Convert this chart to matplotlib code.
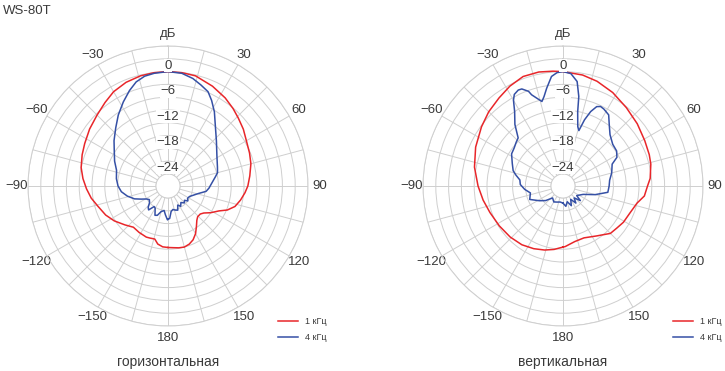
import numpy as np
import matplotlib
matplotlib.use("Agg")
import matplotlib.pyplot as plt

plt.rcParams['font.family'] = ['Liberation Sans', 'DejaVu Sans']

# ---------------- data (angle in degrees, level in dB) ----------------
h1k_ang = [-180, -175, -170, -166, -161, -157, -148, -140, -132, -123, -115, -106, -99, -92, -85,
           -78, -70, -63, -54, -45, -37, -30, -22, -14, -7, 0, 7, 14, 24, 33, 40, 46, 53, 60, 68,
           75, 83, 90, 95, 101, 107, 112, 116, 122, 127, 131, 136, 140, 145, 150, 155, 160, 165,
           170, 175, 180]
h1k_db = [-12.4, -12.5, -13.0, -14.0, -13.9, -13.8, -14.0, -14.2, -13.2, -11.8, -10.7, -9.7, -8.6,
          -7.7, -6.8, -6.0, -5.4, -4.9, -4.1, -3.3, -2.3, -1.3, -0.6, -0.2, -0.05, 0.0, -0.05, -0.2,
          -1.2, -2.2, -3.1, -3.9, -4.7, -5.6, -6.2, -6.7, -7.5, -8.1, -8.7, -9.5, -10.4, -11.8,
          -13.5, -15.0, -16.3, -16.8, -16.8, -16.3, -15.2, -13.9, -12.9, -12.3, -12.0, -12.1,
          -12.3, -12.4]

h4k_ang = [-180, -179, -175, -171, -165, -160, -156, -150, -146, -141, -137, -132, -126, -121,
           -116, -111, -104, -97, -90, -82, -73, -65, -57, -50, -42, -35, -28, -22, -17, -12, -7,
           0, 7, 13, 18, 23, 27, 32, 38, 47, 58, 69, 75, 79, 86, 93, 98, 104, 110, 116, 122, 127,
           131, 136, 142, 148, 153, 158, 163, 168, 173, 177, 180]
h4k_db = [-19.0, -18.9, -20.0, -21.0, -20.6, -19.5, -19.3, -20.8, -21.0, -19.6, -20.0, -21.0,
          -21.4, -20.9, -19.8, -18.4, -17.0, -15.8, -15.1, -14.6, -14.2, -13.0, -11.8, -10.3, -8.5,
          -6.5, -4.5, -2.7, -1.3, -0.5, -0.2, 0.0, -0.2, -0.95, -1.9, -2.8, -4.3, -6.3, -8.8,
          -11.3, -13.3, -14.4, -14.8, -15.5, -16.5, -17.2, -17.8, -19.5, -20.5, -21.2, -21.4,
          -21.0, -21.7, -21.3, -21.9, -21.2, -21.8, -20.7, -20.9, -21.2, -20.8, -19.2, -19.0]

v1k_ang = [-180, -172, -164, -155, -145, -134, -122, -110, -100, -90, -78, -66, -54, -45, -36,
           -28, -20, -12, -5, 0, 10, 18, 28, 39, 50, 61, 70, 76, 85, 90, 97, 103, 112, 121, 128,
           135, 146, 158, 168, 178, 180]
v1k_db = [-12.5, -11.8, -11.2, -10.6, -10.0, -9.6, -9.2, -8.6, -7.8, -6.9, -5.6, -4.4, -3.2, -2.2,
          -1.3, -0.3, 0.5, 0.5, 0.2, 0.0, -0.4, -1.0, -2.0, -3.2, -4.1, -4.9, -5.3, -5.6, -6.3,
          -7.0, -7.6, -9.0, -9.9, -10.3, -10.8, -11.1, -12.7, -13.7, -13.5, -12.6, -12.5]

v4k_ang = [-180, -170, -160, -150, -139, -130, -122, -112, -102, -95, -88, -82, -77, -73, -66,
           -58, -52, -47, -43, -38, -33, -30, -28, -25, -23, -20, -19, -16, -14, -12, -9.5, -6,
           -3, 0, 4, 7.7, 10, 11.2, 14, 16, 18, 20.4, 23, 25.3, 28, 32.7, 37, 42.5, 50, 56.8, 62,
           66, 75, 83, 90, 98, 105, 112.6, 125, 130, 137, 143, 150, 157, 165, 172, 180]
v4k_db = [-22.8, -23.0, -22.8, -22.5, -23.1, -21.5, -20.3, -18.4, -19.0, -17.8, -16.8, -16.6,
          -15.5, -14.6, -13.8, -12.6, -12.3, -11.8, -11.4, -8.5, -6.0, -3.6, -2.5, -2.0, -2.1,
          -3.2, -4.2, -5.6, -6.4, -5.4, -3.6, -1.0, -0.2, 0.0, -0.4, -2.1, -5.5, -9.1, -12.5,
          -13.3, -10.5, -8.2, -6.6, -6.2, -6.4, -7.0, -8.8, -10.5, -11.6, -11.8, -12.5, -14.2,
          -15.0, -15.8, -16.0, -16.2, -19.0, -21.7, -22.9, -21.5, -23.0, -21.8, -23.2, -21.8,
          -23.0, -22.0, -22.8]

angle_ticks = [0, 30, 60, 90, 120, 150, 180, -150, -120, -90, -60, -30]
angle_labels = ['дБ', '30', '60', '90', '120', '150', '180', '\u2212150', '\u2212120', '\u221290',
                '\u221260', '\u221230']
db_ticks = [0, -6, -12, -18, -24]
db_labels = ['0', '\u22126', '\u221212', '\u221218', '\u221224']
series_names = ['1 кГц', '4 кГц']
titles = ['горизонтальная', 'вертикальная']

RED = '#e8262a'
BLUE = '#3550a5'
GRID = '#cfcfcf'
TXT = '#3a3a3a'

fig = plt.figure(figsize=(7.25, 3.71), dpi=100)

W, H = 725.0, 371.0
R = 140.0
centers = [(168.0, 186.0), (563.0, 186.0)]
datasets = [((h1k_ang, h1k_db), (h4k_ang, h4k_db)), ((v1k_ang, v1k_db), (v4k_ang, v4k_db))]

for i, (cx, cy) in enumerate(centers):
    ax = fig.add_axes([(cx - R) / W, (H - cy - R) / H, 2 * R / W, 2 * R / H], projection='polar')
    ax.set_theta_zero_location('N')
    ax.set_theta_direction(-1)
    ax.set_rlim(-24, 6)
    ax.set_rorigin(-24 - 12.0 / (128.0 / 30.0))
    ax.set_rgrids(np.arange(-24, 7, 3), labels=[''] * 11)
    grid_angles = np.arange(0, 360, 15)
    lab_map = {a % 360: l for a, l in zip(angle_ticks, angle_labels)}
    ax.set_thetagrids(grid_angles, labels=[lab_map.get(a, '') for a in grid_angles])
    ax.tick_params(axis='x', pad=-2.2, labelsize=9.5, labelcolor=TXT)
    ax.grid(True, color=GRID, lw=0.7)
    for sp in ax.spines.values():
        sp.set_color(GRID)
        sp.set_linewidth(0.7)
    ax.set_facecolor('white')

    (a1, d1), (a2, d2) = datasets[i]
    ax.plot(np.deg2rad(a1), d1, color=RED, lw=1.1, label=series_names[0], zorder=3)
    ax.plot(np.deg2rad(a2), d2, color=BLUE, lw=1.1, label=series_names[1], zorder=3)

    for v, l in zip(db_ticks, db_labels):
        ax.text(0, v, l, ha='center', va='bottom', fontsize=9.5, color=TXT, zorder=4,
                bbox=dict(facecolor='white', edgecolor='none', pad=0.3))

    leg = ax.legend(loc='upper left', bbox_to_anchor=(0.893, 0.032), frameon=False,
                    fontsize=6.5, handlelength=2.2, handletextpad=0.8, labelspacing=0.75,
                    borderaxespad=0, borderpad=0)
    for t in leg.get_texts():
        t.set_color(TXT)

    fig.text(cx / W, 1 - 362 / H, titles[i], ha='center', va='center', fontsize=10, color=TXT)

fig.text(3 / W, 1 - 11 / H, 'WS-80T', ha='left', va='center', fontsize=9.5, color=TXT)

fig.savefig('out.png', dpi=100, facecolor='white')
